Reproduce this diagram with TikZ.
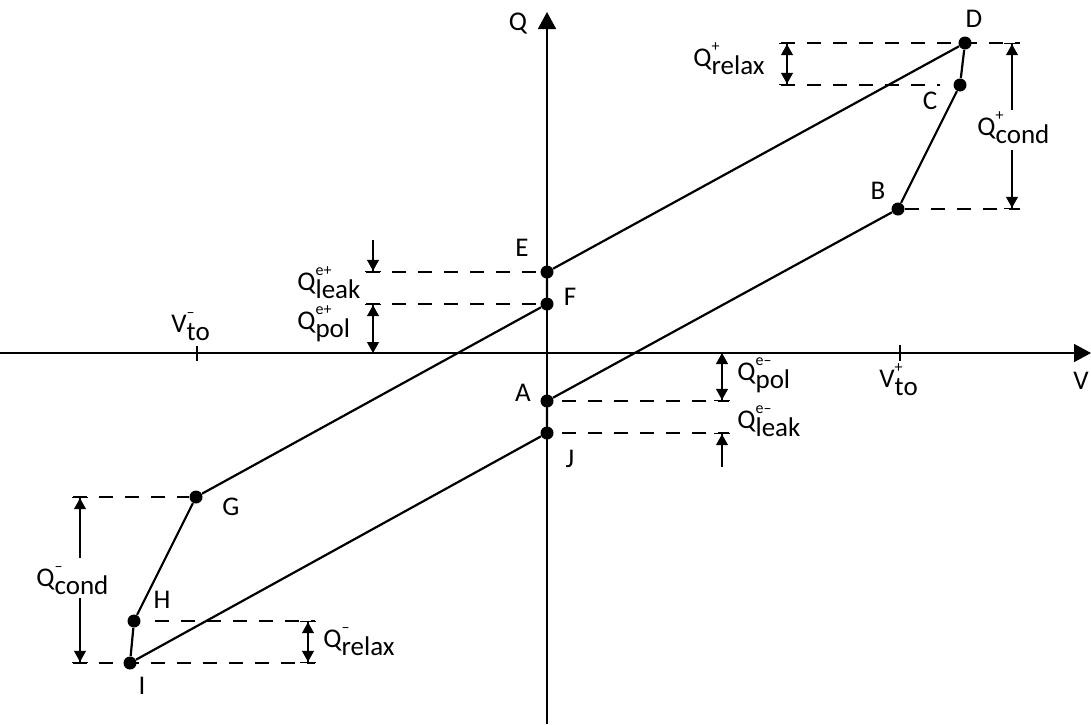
\documentclass[tikz,border=0pt]{standalone}
\usepackage{fontspec}
\setmainfont{Carlito}
\usetikzlibrary{arrows.meta}
\newcommand{\qsub}[3]{#1\rlap{\raisebox{0.55em}{\fontsize{8}{8}\selectfont #2}}\raisebox{-0.3em}{#3}}

\begin{document}
\begin{tikzpicture}[x=0.5pt,y=-0.5pt,font=\fontsize{13.5}{16}\selectfont,
  axis/.style={line width=0.75pt,-{Triangle[length=8.5pt,width=9pt]}},
  hyst/.style={line width=1.1pt},
  pt/.style={circle,fill,inner sep=0pt,minimum size=6.5pt},
  guide/.style={line width=0.6pt,dash pattern=on 7pt off 6pt},
  twohead/.style={line width=0.6pt,{Bar[width=8pt]Triangle[length=5.5pt,width=6pt]}-{Triangle[length=5.5pt,width=6pt]Bar[width=8pt]}},
  polhead/.style={line width=0.6pt,{Bar[width=8pt]Triangle[length=5.5pt,width=6pt]}-{Triangle[length=5.5pt,width=6pt]}},
  tohead/.style={line width=0.6pt,-{Triangle[length=5.5pt,width=6pt]Bar[width=8pt]}},
  qlab/.style={anchor=base west,inner sep=0pt}]
\useasboundingbox (0,0) rectangle (1091,724);

\coordinate (xl) at (0,353);
\coordinate (xr) at (1091,353);
\coordinate (yb) at (547,724);
\coordinate (yt) at (547,12);
\draw[axis] (xl) -- (xr);
\draw[axis] (yb) -- (yt);
\node (Qax) at (518,24) {Q};
\node (Vax) at (1081,381) {V};
\draw[line width=0.75pt] (197,346) -- (197,361);
\draw[line width=0.75pt] (900,345) -- (900,361);
\node[qlab] (vtom) at (171,332) {\qsub{V}{--}{to}};
\node[qlab] (vtop) at (879,387) {\qsub{V}{+}{to}};

\node[pt] (A) at (547,401) {};
\node[pt] (B) at (898,209) {};
\node[pt] (C) at (960,85) {};
\node[pt] (D) at (965,43) {};
\node[pt] (E) at (547,272) {};
\node[pt] (F) at (547,304) {};
\node[pt] (G) at (196,497) {};
\node[pt] (H) at (134,621) {};
\node[pt] (I) at (130,663) {};
\node[pt] (J) at (547,433) {};
\draw[hyst] (A) -- (B) -- (C) -- (D) -- (E) -- (F) -- (G) -- (H) -- (I) -- (J) -- (A);

\node (lA) at (523,393) {A};
\node (lB) at (878,191) {B};
\node (lC) at (930,101) {C};
\node (lD) at (974,19) {D};
\node (lE) at (522,248) {E};
\node (lF) at (570,297) {F};
\node (lG) at (231,507) {G};
\node (lH) at (162,600) {H};
\node (lI) at (142,686) {I};
\node (lJ) at (570,459) {J};

\coordinate (dl) at (781,43);
\coordinate (dr) at (1020,43);
\coordinate (cl) at (781,85);
\coordinate (cr) at (940,85);
\coordinate (br) at (1020,209);
\coordinate (el) at (366,272);
\coordinate (er) at (536,272);
\coordinate (fl) at (366,304);
\coordinate (fr) at (536,304);
\coordinate (ar) at (729,401);
\coordinate (al) at (562,401);
\coordinate (jr) at (729,433);
\coordinate (jl) at (562,433);
\coordinate (gl) at (73,497);
\coordinate (hl) at (155,621);
\coordinate (hr) at (315,621);
\coordinate (il) at (73,663);
\coordinate (ir) at (315,663);
\draw[guide] (dl) -- (dr);
\draw[guide] (cl) -- (cr);
\draw[guide] (B) -- (br);
\draw[guide] (el) -- (er);
\draw[guide] (fl) -- (fr);
\draw[guide] (al) -- (ar);
\draw[guide] (jl) -- (jr);
\draw[guide] (gl) -- (G);
\draw[guide] (hl) -- (hr);
\draw[guide] (il) -- (ir);

\draw[twohead] (787,43) -- (787,85);
\node[qlab] (qrelp) at (693,66) {\qsub{Q}{+}{relax}};
\draw[tohead] (1012,110) -- (1012,43);
\draw[tohead] (1012,150) -- (1012,209);
\node[qlab] (qconp) at (977,135) {\qsub{Q}{+}{cond}};
\draw[tohead] (373,240) -- (373,272);
\node[qlab] (qleakp) at (297,290) {\qsub{Q}{e+}{leak}};
\draw[polhead] (373,304) -- (373,353);
\node[qlab] (qpolp) at (297,329) {\qsub{Q}{e+}{pol}};
\draw[polhead] (722,401) -- (722,353);
\node[qlab] (qpolm) at (737,380) {\qsub{Q}{e--}{pol}};
\draw[tohead] (722,467) -- (722,433);
\node[qlab] (qleakm) at (737,428) {\qsub{Q}{e--}{leak}};
\draw[tohead] (80,558) -- (80,497);
\draw[tohead] (80,598) -- (80,663);
\node[qlab] (qconm) at (36,586) {\qsub{Q}{--}{cond}};
\draw[twohead] (308,621) -- (308,663);
\node[qlab] (qrelm) at (323,647) {\qsub{Q}{--}{relax}};
\end{tikzpicture}
\end{document}
